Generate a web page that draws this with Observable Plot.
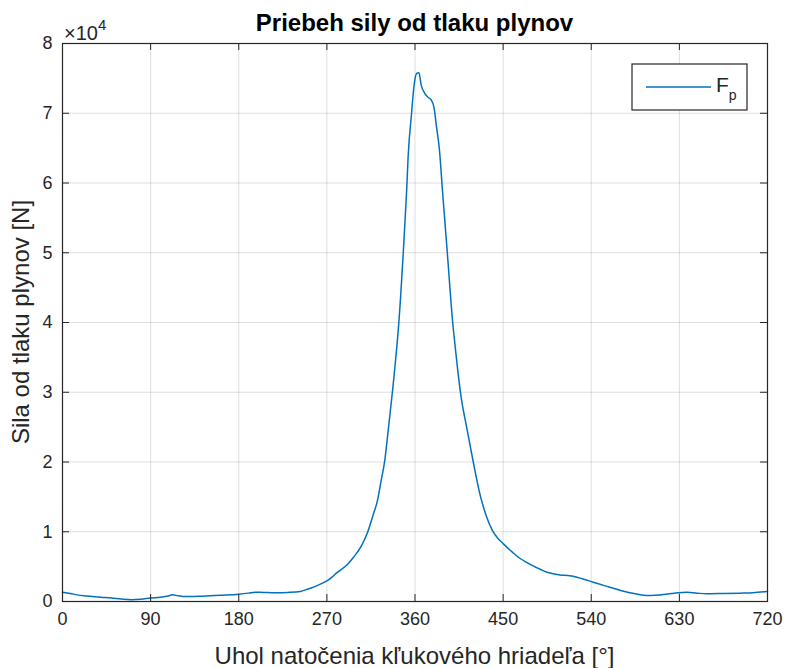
<!DOCTYPE html>
<html><head><meta charset="utf-8">
<script src="https://cdn.jsdelivr.net/npm/d3@7"></script>
<script src="https://cdn.jsdelivr.net/npm/@observablehq/plot@0.6"></script>
<style>
body{margin:0;background:#fff;}
#wrap{position:relative;width:785px;height:668px;}
</style></head><body><div id="wrap"></div>
<script>
// crank angle [deg]
const angle = [0,8,15,25,39,50,60,70,80,90,100,108,112,118,125,140,161,180,190,197,205,217,230,243,250,257,265,270,281,291,297,305,311,317,321.7,325,329.1,333,336.9,342,343.5,348,351.5,353,356.5,358.9,361.6,364,366.4,369.8,373.2,376.6,379.3,382,385,388,393,398.5,401,404,407,413,419.5,427,433,439,445,450,460,467,474,485,495,508,518,530,542,555,570,585,597,605,614,625,638,648,658,675,692,705,720];
// gas pressure force [N]
const force = [1330,1150,950,800,620,500,350,250,320,500,620,800,950,820,700,750,900,1050,1200,1330,1300,1250,1300,1450,1750,2100,2600,2950,4200,5300,6300,7900,9700,12300,14500,17000,20200,25000,30000,37450,40000,50000,59000,63800,70000,73800,75700,75800,74000,72900,72300,71900,70900,68000,64700,59000,50000,40000,36600,32700,29400,24800,20000,15000,12200,10200,9000,8300,7000,6200,5600,4800,4200,3800,3700,3300,2770,2200,1580,1100,860,900,1000,1200,1330,1200,1100,1150,1200,1250,1430];
const xTicks = [0,90,180,270,360,450,540,630,720];
const yTicks = [0,10000,20000,30000,40000,50000,60000,70000,80000];
const titleText = "Priebeh sily od tlaku plynov";
const xLabel = "Uhol natočenia kľukového hriadeľa [°]";
const yLabel = "Sila od tlaku plynov [N]";
const seriesName = "F";
const seriesSub = "p";

const data = angle.map((a, i) => ({a, f: force[i]}));
const W = 785, H = 668, mL = 62, mR = 18, mT = 43, mB = 67;
const pw = W - mL - mR, ph = H - mT - mB, tl = 7;
const ink = "#262626";
const font = "'Liberation Sans', Arial, Helvetica, sans-serif";

const plot = Plot.plot({
  width: W, height: H,
  marginLeft: mL, marginRight: mR, marginTop: mT, marginBottom: mB,
  style: {fontFamily: font, fontSize: "18px", color: ink, background: "white"},
  x: {domain: [0, 720]},
  y: {domain: [0, 80000]},
  marks: [
    Plot.ruleX(xTicks, {x: d => d, stroke: ink, strokeOpacity: 0.15}),
    Plot.ruleY(yTicks, {y: d => d, stroke: ink, strokeOpacity: 0.15}),
    Plot.line(data, {x: "a", y: "f", stroke: "#0072BD", strokeWidth: 1.5, curve: "monotone-x"}),
    Plot.frame({stroke: ink, strokeWidth: 1.2}),
    Plot.tickX(xTicks, {x: d => d, stroke: ink, insetTop: ph - tl}),
    Plot.tickX(xTicks, {x: d => d, stroke: ink, insetBottom: ph - tl}),
    Plot.tickY(yTicks, {y: d => d, stroke: ink, insetRight: pw - tl}),
    Plot.tickY(yTicks, {y: d => d, stroke: ink, insetLeft: pw - tl}),
    Plot.axisX(xTicks, {tickSize: 0, tickPadding: 11, label: null, fontSize: 18, fill: ink}),
    Plot.axisY(yTicks, {tickSize: 0, tickPadding: 10, label: null, fontSize: 18, fill: ink, tickFormat: d => String(d / 10000)})
  ]
});
document.getElementById("wrap").appendChild(plot);

const svg = d3.select(plot);
const g = svg.append("g").attr("font-family", font).attr("fill", ink);
g.append("text").attr("x", (mL + W - mR) / 2).attr("y", 31).attr("text-anchor", "middle")
  .attr("font-weight", "bold").style("font-size", "24px").attr("fill", "#000").text(titleText);
g.append("text").attr("x", (mL + W - mR) / 2).attr("y", 664).attr("text-anchor", "middle")
  .style("font-size", "24px").text(xLabel);
g.append("text").attr("transform", `translate(29,${mT + ph / 2}) rotate(-90)`).attr("text-anchor", "middle")
  .style("font-size", "24px").text(yLabel);
const ex = g.append("text").attr("x", 64).attr("y", 40).style("font-size", "20px").attr("text-anchor", "start");
ex.append("tspan").text("×10");
ex.append("tspan").attr("dy", -10).style("font-size", "15px").text("4");

// legend
const lg = svg.append("g").attr("font-family", font);
lg.append("rect").attr("x", 632).attr("y", 64).attr("width", 115).attr("height", 46)
  .attr("fill", "white").attr("stroke", ink).attr("stroke-width", 1.2);
lg.append("line").attr("x1", 646).attr("x2", 711).attr("y1", 87).attr("y2", 87)
  .attr("stroke", "#0072BD").attr("stroke-width", 1.5);
const lt = lg.append("text").attr("x", 716).attr("y", 92).style("font-size", "21px").attr("fill", ink).attr("text-anchor", "start");
lt.append("tspan").text(seriesName);
lt.append("tspan").attr("dy", 8).style("font-size", "14px").text(seriesSub);
</script></body></html>
